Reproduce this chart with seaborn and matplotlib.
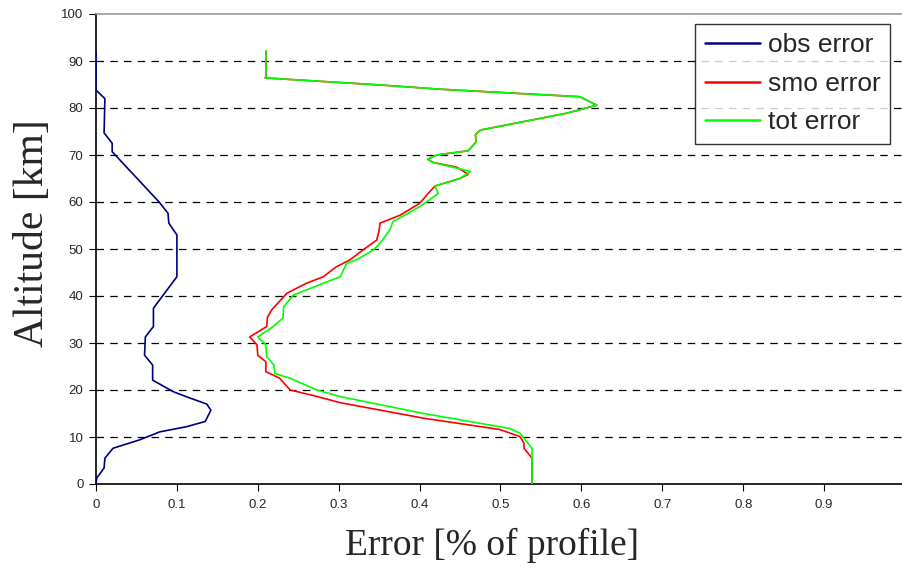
import matplotlib
matplotlib.use("Agg")
import matplotlib.pyplot as plt
import seaborn as sns
import pandas as pd

# --- data ---
obs_alt = [0, 1.3, 3.4, 5.5, 7.6, 9.4, 11.1, 12.2, 13.3, 15.7, 17.0, 18.3, 19.6, 22.1,
           25.3, 27.4, 31.3, 33.5, 37.4, 44.1, 49.8, 53.0, 55.5, 57.6, 60.0, 70.7,
           72.5, 74.7, 82.0, 83.8, 92.0]
obs_err = [0, 0.001, 0.010, 0.011, 0.021, 0.054, 0.079, 0.112, 0.135, 0.142, 0.137,
           0.116, 0.096, 0.070, 0.070, 0.060, 0.061, 0.071, 0.071, 0.100, 0.100, 0.100,
           0.090, 0.089, 0.078, 0.020, 0.020, 0.010, 0.011, 0.0, 0.0]

tot_alt = [0, 7.6, 10.8, 11.8, 15.0, 18.6, 20.0, 22.5, 23.5, 25.3, 27.1, 29.6, 31.3,
           33.5, 35.3, 37.7, 40.2, 42.7, 44.1, 47.0, 47.7, 49.8, 51.2, 54.0, 55.8, 59.0,
           61.8, 63.4, 65.0, 66.5, 68.4, 69.1, 70.0, 70.9, 72.8, 74.3, 75.3, 78.9,
           80.6, 82.4, 84.0, 84.9, 86.4, 86.7, 92.1]
tot_err = [0.539, 0.539, 0.524, 0.512, 0.405, 0.302, 0.273, 0.240, 0.221, 0.220, 0.211,
           0.210, 0.200, 0.219, 0.231, 0.232, 0.244, 0.281, 0.302, 0.310, 0.322, 0.343,
           0.351, 0.363, 0.367, 0.400, 0.423, 0.419, 0.450, 0.463, 0.417, 0.410, 0.421,
           0.460, 0.470, 0.469, 0.475, 0.582, 0.619, 0.598, 0.425, 0.351, 0.209, 0.210,
           0.210]

smo_alt = [0, 5.5, 7.6, 8.7, 10.1, 11.6, 14.0, 17.3, 18.8, 20.0, 22.5, 23.9, 26.0, 27.4,
           29.6, 31.3, 33.5, 35.5, 37.0, 40.6, 42.7, 44.1, 46.2, 47.7, 49.8, 51.9, 54.0,
           55.5, 57.2, 59.7, 61.5, 63.4, 65.0, 65.9, 67.4, 68.4, 69.1, 70.0, 70.9, 72.8,
           74.3, 75.3, 78.9, 80.6, 82.4, 84.0, 84.9, 86.4, 86.7, 92.1]
smo_err = [0.539, 0.539, 0.529, 0.529, 0.524, 0.499, 0.405, 0.302, 0.269, 0.240, 0.227,
           0.210, 0.210, 0.200, 0.199, 0.190, 0.211, 0.212, 0.217, 0.236, 0.260, 0.281,
           0.297, 0.314, 0.330, 0.347, 0.350, 0.351, 0.376, 0.400, 0.409, 0.419, 0.450,
           0.460, 0.446, 0.417, 0.410, 0.421, 0.460, 0.470, 0.469, 0.475, 0.582, 0.619,
           0.598, 0.425, 0.351, 0.209, 0.210, 0.210]

series_names = ["obs error", "smo error", "tot error"]
series_colors = ["#000080", "#FF0000", "#00FF00"]
x_ticks = [0, 0.1, 0.2, 0.3, 0.4, 0.5, 0.6, 0.7, 0.8, 0.9, 1]
x_ticklabels = ["0", "0.1", "0.2", "0.3", "0.4", "0.5", "0.6", "0.7", "0.8", "0.9", "1"]
y_ticks = list(range(0, 101, 10))

# --- figure ---
sns.set_style("white")
plt.rcParams["font.family"] = ["Liberation Sans", "DejaVu Sans"]

W, H = 902, 573
fig = plt.figure(figsize=(W / 100, H / 100), dpi=100)
ax = fig.add_axes([96 / W, (H - 484) / H, 809 / W, 470 / H])

data = [(obs_alt, obs_err), (smo_alt, smo_err), (tot_alt, tot_err)]
for (alt, err), name, col in zip(data, series_names, series_colors):
    df = pd.DataFrame({"Error": err, "Altitude": alt})
    sns.lineplot(data=df, x="Error", y="Altitude", sort=False, estimator=None,
                 color=col, linewidth=1.2, label=name, ax=ax, zorder=3)

ax.set_xlim(0, 1)
ax.set_ylim(0, 100)
ax.set_xticks(x_ticks)
ax.set_xticklabels(x_ticklabels)
ax.set_yticks(y_ticks)
for yv in y_ticks[1:-1]:
    ax.axhline(yv, color="black", linewidth=0.9, linestyle=(0, (6, 5)), zorder=1)

for side in ["left", "bottom"]:
    ax.spines[side].set_color("black")
    ax.spines[side].set_linewidth(1.2)
ax.spines["top"].set_color("#999999")
ax.spines["top"].set_linewidth(1.2)
ax.spines["right"].set_visible(False)

ax.tick_params(axis="both", which="major", direction="out", length=5, width=0.8,
               color="black", labelsize=9.5, pad=6, left=True, bottom=True)
ax.tick_params(axis="y", pad=4)

serif = ["Liberation Serif", "DejaVu Serif"]
ax.set_xlabel("Error [% of profile]", family=serif, fontsize=27)
ax.set_ylabel("Altitude [km]", family=serif, fontsize=30)
ax.xaxis.set_label_coords((492 - 96) / 809, -44 / 470)
ax.yaxis.set_label_coords((52 - 96) / 809, (484 - 233) / 470)

leg = ax.legend(loc="upper right", bbox_to_anchor=(890 / W, 1 - 24 / H),
                bbox_transform=fig.transFigure, fontsize=19, frameon=True,
                fancybox=False, handlelength=2.1, handletextpad=0.3,
                borderpad=0.35, labelspacing=0.55, borderaxespad=0)
leg.get_frame().set_edgecolor("black")
leg.get_frame().set_linewidth(1.0)
for line in leg.get_lines():
    line.set_linewidth(1.8)

fig.savefig("out.png", dpi=100)
